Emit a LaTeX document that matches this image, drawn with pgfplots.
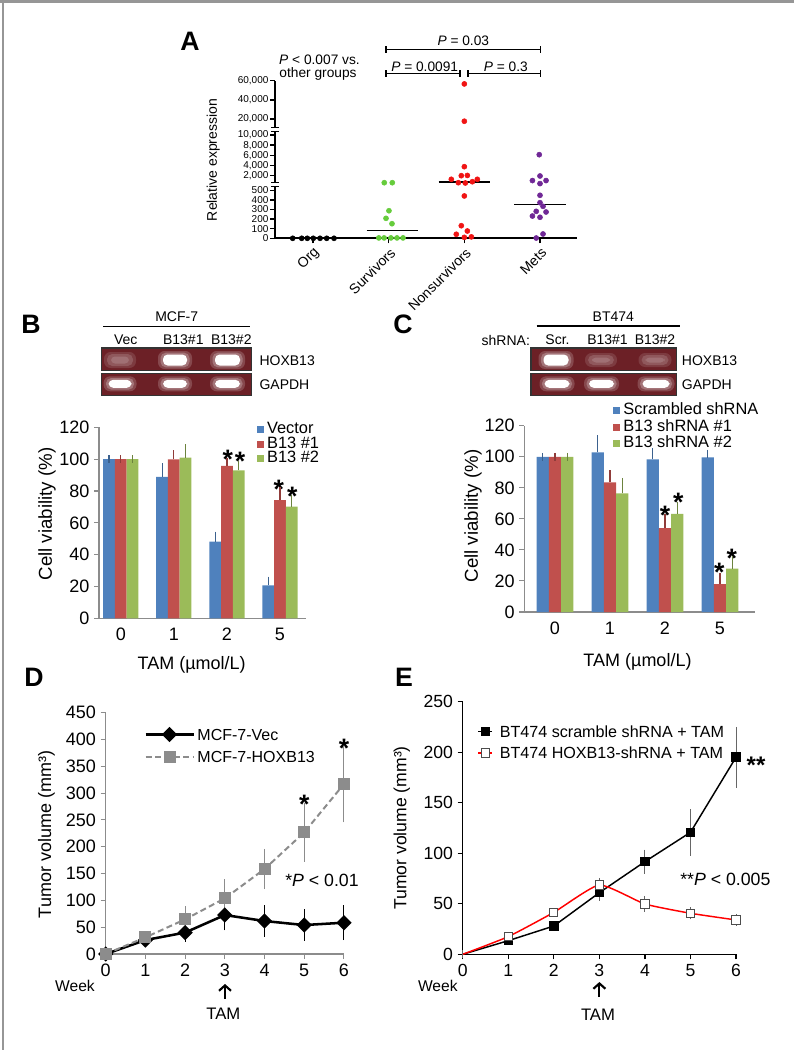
\documentclass[border=0pt]{standalone}
\usepackage{fontspec}
\setmainfont{Liberation Sans}
\usepackage{pgfplots}
\pgfplotsset{compat=1.18}
\usetikzlibrary{arrows.meta}
\newcommand{\fs}[1]{\fontsize{#1}{#1}\selectfont}
\definecolor{xblue}{RGB}{79,129,189}
\definecolor{xred}{RGB}{192,80,77}
\definecolor{xgreen}{RGB}{155,187,89}
\definecolor{dgreen}{RGB}{102,204,60}
\definecolor{dred}{RGB}{240,20,20}
\definecolor{dpurple}{RGB}{112,40,150}
\definecolor{gelbg}{RGB}{108,32,38}
\definecolor{framegray}{RGB}{150,150,150}
\definecolor{hgray}{RGB}{140,140,140}
\pgfplotsset{
  sq legend/.style={legend image code/.code={\fill[##1,draw=none] (0pt,-2.6pt) rectangle (5.2pt,2.6pt);}},
  ln legend D/.style={legend image code/.code={\draw[##1,mark repeat=2,mark phase=2] plot coordinates {(0pt,0pt) (18pt,0pt) (36pt,0pt)};}},
  ln legend E/.style={legend image code/.code={\draw[##1,mark repeat=2,mark phase=2] plot coordinates {(0pt,0pt) (5.25pt,0pt) (10.5pt,0pt)};}},
}
% gel band: x y w h corecolor
\newcommand{\band}[5]{%
  \fill[white, opacity=0.18, rounded corners=5pt] ({#1-#3/2-5},{#2-#4/2-3.5}) rectangle ({#1+#3/2+5},{#2+#4/2+3.5});
  \fill[white, opacity=0.25, rounded corners=4pt] ({#1-#3/2-2.5},{#2-#4/2-1.8}) rectangle ({#1+#3/2+2.5},{#2+#4/2+1.8});
  \fill[#5, rounded corners=3.5pt] ({#1-#3/2},{#2-#4/2}) rectangle ({#1+#3/2},{#2+#4/2});}
\newcommand{\fband}[4]{%
  \fill[white, opacity=0.12, rounded corners=5pt] ({#1-#3/2-4},{#2-#4/2-3}) rectangle ({#1+#3/2+4},{#2+#4/2+3});
  \fill[white, opacity=0.15, rounded corners=4pt] ({#1-#3/2-1},{#2-#4/2-1}) rectangle ({#1+#3/2+1},{#2+#4/2+1});
  \fill[white, opacity=0.15, rounded corners=3pt] ({#1-#3/2+3},{#2-#4/2+1.5}) rectangle ({#1+#3/2-3},{#2+#4/2-1.5});}
\newcommand{\astk}[2]{\node[anchor=base, font=\fs{20}\bfseries] at (#1,{#2+15.6}) {*};}
\begin{document}
\begin{tikzpicture}
\path[use as bounding box] (0,0) rectangle (595.5pt,-787.5pt);
\begin{scope}[x=0.75pt,y=-0.75pt, every node/.style={inner sep=0pt, text depth=0pt}]
  % frame
  \draw[framegray, line width=2pt] (0,1.3) -- (794,1.3);
  \draw[framegray, line width=1.7pt] (2.8,0) -- (2.8,1050);
  % panel letters
  \node[font=\fs{20}\bfseries] at (190,41.7) {A};
  \node[font=\fs{20}\bfseries] at (31,324) {B};
  \node[font=\fs{20}\bfseries] at (403,324) {C};
  \node[font=\fs{20}\bfseries] at (34,677) {D};
  \node[font=\fs{20}\bfseries] at (404,677) {E};
  % ---- Panel A annotations
  \node[font=\fs{10.3}] at (319.5,59.3) {\textit{P} < 0.007 vs.};
  \node[font=\fs{10.3}] at (318,72.3) {other groups};
  \node[font=\fs{10.3}] at (463.3,40.7) {\textit{P} = 0.03};
  \node[font=\fs{10.3}] at (424.7,66.5) {\textit{P} = 0.0091};
  \node[font=\fs{10.3}] at (505.8,66.5) {\textit{P} = 0.3};
  \draw[line width=0.8pt] (386,49.7) -- (540.7,49.7) (386,46.2) -- (386,53.2) (540.7,46.2) -- (540.7,53.2);
  \draw[line width=0.8pt] (386,73.7) -- (460,73.7) (386,70.2) -- (386,77.2) (460,70.2) -- (460,77.2);
  \draw[line width=0.8pt] (468,73.7) -- (540.7,73.7) (468,70.2) -- (468,77.2) (540.7,70.2) -- (540.7,77.2);
  \node[font=\fs{10.5}, rotate=90] at (211.7,160) {Relative expression};
  % broken y axis of A
  \draw[line width=1.5pt] (275,239) -- (275,186.7) (275,182.7) -- (275,131.7) (275,127.7) -- (275,80.7);
  \draw[line width=1pt] (271,186.7) -- (279,186.7) (271,182.7) -- (279,182.7) (271,131.7) -- (279,131.7) (271,127.7) -- (279,127.7);
  % ---- Panel B gel
  \node[font=\fs{10.5}] at (176.7,316.7) {MCF-7};
  \draw[line width=0.8pt] (103,326.7) -- (250,326.7);
  \node[font=\fs{10.5}] at (125.8,339.2) {Vec};
  \node[font=\fs{10.5}] at (183.3,339.2) {B13\#1};
  \node[font=\fs{10.5}] at (231.3,339.2) {B13\#2};
  \fill[gelbg] (101.5,348) rectangle (251.7,370.7);
  \fill[gelbg] (101.5,373.3) rectangle (251.7,395.3);
  \fband{120}{360}{24}{10}
  \band{175}{360}{24}{11}{white}
  \band{227.5}{360}{25}{11}{white}
  \band{120}{383.8}{23}{8}{white}
  \band{175}{383.8}{24}{8}{white}
  \band{227.5}{383.8}{25}{8}{white}
  \draw[black!80, line width=0.8pt] (101.5,348) rectangle (251.7,370.7);
  \draw[black!80, line width=0.8pt] (101.5,373.3) rectangle (251.7,395.3);
  \node[font=\fs{10.5}, anchor=west] at (259.3,360.8) {HOXB13};
  \node[font=\fs{10.5}, anchor=west] at (259.3,385) {GAPDH};
  % ---- Panel C gel
  \node[font=\fs{10.5}] at (613.3,316.7) {BT474};
  \draw[line width=0.8pt] (536.7,326) -- (680,326);
  \node[font=\fs{10.5}] at (505.8,340) {shRNA:};
  \node[font=\fs{10.5}] at (557.5,340) {Scr.};
  \node[font=\fs{10.5}] at (607.5,340) {B13\#1};
  \node[font=\fs{10.5}] at (655,340) {B13\#2};
  \fill[gelbg] (531,348) rectangle (676.7,370.7);
  \fill[gelbg] (531,373.3) rectangle (676.7,395.3);
  \band{556}{360}{25}{11}{white}
  \fband{601}{360}{24}{8}
  \fband{655}{360}{25}{8}
  \band{557}{383.8}{25}{8}{white}
  \band{601.5}{383.8}{25}{8}{white}
  \band{656}{383.8}{27}{8}{white}
  \draw[black!80, line width=0.8pt] (531,348) rectangle (676.7,370.7);
  \draw[black!80, line width=0.8pt] (531,373.3) rectangle (676.7,395.3);
  \node[font=\fs{10.5}, anchor=west] at (681.7,360.8) {HOXB13};
  \node[font=\fs{10.5}, anchor=west] at (681.7,385) {GAPDH};
  % ---- Panel B/C labels
  \node[font=\fs{14}, rotate=90] at (45,514) {Cell viability (\%)};
  \node[font=\fs{14}, rotate=90] at (471,516) {Cell viability (\%)};
  \node[font=\fs{13.5}] at (191.7,663.3) {TAM (µmol/L)};
  \node[font=\fs{13.5}] at (637.5,660) {TAM (µmol/L)};
  \astk{227.7}{453.3}\astk{240}{455}\astk{278.7}{482.7}\astk{292.3}{490}
  \astk{665}{509.3}\astk{678.3}{496}\astk{719.3}{566}\astk{731.7}{551.7}
  % ---- Panel D labels
  \node[font=\fs{13.5}, rotate=90] at (44.7,834.5) {Tumor volume (mm³)};
  \node[font=\fs{11.7}] at (75,985.8) {Week};
  \draw[line width=1.6pt, -{Straight Barb[length=4pt,width=9pt]}] (225,999) -- (225,984);
  \node[font=\fs{12.5}] at (223.3,1014) {TAM};
  \astk{304.3}{798.3}\astk{344}{741.7}
  \node[font=\fs{13.3}, anchor=west] at (285,880) {*\textit{P} < 0.01};
  % ---- Panel E labels
  \node[font=\fs{13.2}, rotate=90] at (400,828) {Tumor volume (mm³)};
  \node[font=\fs{11.7}] at (437.8,985.5) {Week};
  \draw[line width=1.6pt, -{Straight Barb[length=4pt,width=9pt]}] (599.4,997) -- (599.4,982);
  \node[font=\fs{12.5}] at (598,1015) {TAM};
  \node[anchor=base, font=\fs{18}\bfseries] at (756,773) {**};
  \node[font=\fs{13.3}, anchor=west] at (680,879) {**\textit{P} < 0.005};
\end{scope}

% ================= Panel A
\begin{axis}[
  at={({275*0.75pt},{-238.3*0.75pt})}, anchor=south west,
  scale only axis, width=226.5pt, height=118.3pt,
  xmin=-0.502, xmax=3.489, ymin=0, ymax=60,
  y coord trafo/.code={\pgfmathparse{(#1<0.5)?(#1*96):((#1<2)?(48+(#1-0.5)*9.7333):((#1<10)?(62.6+(#1-2)*5.0833):((#1<20)?(103.3+(#1-10)*1.6):(119.3+(#1-20)*0.96))))}},
  axis x line*=bottom, axis y line*=left,
  x axis line style={line width=1.5pt},
  y axis line style={draw=none},
  tick align=outside, major tick length=3.75pt,
  tick style={black, line width=1.1pt},
  xtick={0,1,2,3}, xticklabels={Org,Survivors,Nonsurvivors,Mets},
  xticklabel style={font=\fs{10.5}, rotate=45, anchor=east, inner sep=1pt, xshift=-0.5pt, yshift=-6pt},
  ytick={0,0.1,0.2,0.3,0.4,0.5,2,4,6,8,10,20,40,60},
  yticklabels={0,100,200,300,400,500,{2,000},{4,000},{6,000},{8,000},{10,000},{20,000},{40,000},{60,000}},
  yticklabel style={font=\fs{7.5}, inner sep=1pt},
  clip=false,
]
\addplot[only marks, mark=*, mark size=1.9pt, black] coordinates {(-0.268,0) (-0.149,0) (-0.075,0) (0.004,0) (0.093,0) (0.181,0) (0.278,0)};
\addplot[only marks, mark=*, mark size=1.9pt, dgreen] coordinates {(0.942,1.28) (1.048,1.28) (1.004,0.287) (0.965,0.208) (1.044,0.152) (0.87,0.004) (0.94,0.004) (1.03,0.004) (1.11,0.004) (1.19,0.004)};
\addplot[only marks, mark=*, mark size=1.9pt, dred] coordinates {(2,56.5) (2,18.6) (2,3.77) (1.828,1.63) (1.96,2.0) (2.04,2.05) (2.172,1.63) (1.921,1.28) (2.013,1.25) (2.106,1.38) (2,0.441) (1.96,0.131) (1.894,0.042) (2.04,0.076) (2,0.010) (2.093,0.015)};
\addplot[only marks, mark=*, mark size=1.9pt, dpurple] coordinates {(2.99,6.13) (2.9,1.5) (3,1.97) (3.08,1.5) (3,1.19) (3,0.448) (3,0.371) (3.04,0.333) (2.95,0.281) (3.08,0.274) (2.9,0.232) (3,0.219) (3.04,0.045) (2.95,0.003)};
\addplot[black, line width=1.1pt, no marks] coordinates {(0.71,0.08) (1.39,0.08)};
\addplot[black, line width=1.1pt, no marks] coordinates {(1.66,1.33) (2.34,1.33)};
\addplot[black, line width=1.1pt, no marks] coordinates {(2.66,0.35) (3.34,0.35)};
\end{axis}

% ================= Panel B
\begin{axis}[
  at={({99*0.75pt},{-618.3*0.75pt})}, anchor=south west,
  scale only axis, width=155.25pt, height=143.25pt,
  xmin=-0.41, xmax=3.49, ymin=0, ymax=120,
  ybar=0pt, bar width=8.8pt,
  axis x line*=bottom, axis y line*=left,
  axis line style={black!45, line width=0.8pt},
  ytick={0,20,40,60,80,100,120}, xtick={0,1,2,3}, xticklabels={0,1,2,5},
  tick align=outside, major tick length=3.75pt,
  ytick style={black!45, line width=0.8pt}, xtick style={draw=none},
  ticklabel style={font=\fs{13.5}},
  /pgf/number format/assume math mode=true,
  every axis plot post/.append style={sq legend},
  legend style={at={(0.745,1.041)}, anchor=north west, draw=none, fill=none, font=\fs{12.3},
    nodes={inner sep=0pt, text height=8.5pt, text depth=2.4pt}, row sep=0pt,
    /tikz/every odd column/.append style={column sep=2pt}},
  legend cell align=left,
  clip=false,
]
\addplot[fill=xblue, draw=none, error bars/.cd, y dir=plus, y explicit, error bar style={draw=xblue!75!black, line width=0.9pt}, error mark options={draw=xblue!75!black, mark size=3pt, line width=0.9pt}]
  coordinates {(0,100) +- (0,0) (1,88.8) +- (0,6.1) (2,48.2) +- (0,3.7) (3,20.7) +- (0,3.0)};
\addplot[fill=xred, draw=none, error bars/.cd, y dir=plus, y explicit, error bar style={draw=xred!75!black, line width=0.9pt}, error mark options={draw=xred!75!black, mark size=3pt, line width=0.9pt}]
  coordinates {(0,100) +- (0,0) (1,99.9) +- (0,3.3) (2,95.7) +- (0,2.3) (3,74.3) +- (0,5.5)};
\addplot[fill=xgreen, draw=none, error bars/.cd, y dir=plus, y explicit, error bar style={draw=xgreen!70!black, line width=0.9pt}, error mark options={draw=xgreen!70!black, mark size=3pt, line width=0.9pt}]
  coordinates {(0,100) +- (0,0) (1,101) +- (0,5.8) (2,93) +- (0,3.5) (3,70.2) +- (0,4.6)};
\legend{Vector, B13 \#1, B13 \#2}
\end{axis}

% ================= Panel C
\begin{axis}[
  at={({524.3*0.75pt},{-612*0.75pt})}, anchor=south west,
  scale only axis, width=173pt, height=139.7pt,
  xmin=-0.558, xmax=3.636, ymin=0, ymax=120,
  ybar=0pt, bar width=9.15pt,
  axis x line*=bottom, axis y line*=left,
  axis line style={black!45, line width=0.8pt},
  ytick={0,20,40,60,80,100,120}, xtick={0,1,2,3}, xticklabels={0,1,2,5},
  tick align=outside, major tick length=3.75pt,
  ytick style={black!45, line width=0.8pt}, xtick style={draw=none},
  ticklabel style={font=\fs{13.5}},
  /pgf/number format/assume math mode=true,
  every axis plot post/.append style={sq legend},
  legend style={at={(0.367,1.143)}, anchor=north west, draw=none, fill=none, font=\fs{12.3},
    nodes={inner sep=0pt, text height=9.3pt, text depth=3.2pt}, row sep=0pt,
    /tikz/every odd column/.append style={column sep=2.5pt}},
  legend cell align=left,
  clip=false,
]
\addplot[fill=xblue, draw=none, error bars/.cd, y dir=plus, y explicit, error bar style={draw=xblue!75!black, line width=0.9pt}, error mark options={draw=xblue!75!black, mark size=3pt, line width=0.9pt}]
  coordinates {(0,100) +- (0,0) (1,102.8) +- (0,8.6) (2,98.3) +- (0,4.5) (3,99.6) +- (0,2.4)};
\addplot[fill=xred, draw=none, error bars/.cd, y dir=plus, y explicit, error bar style={draw=xred!75!black, line width=0.9pt}, error mark options={draw=xred!75!black, mark size=3pt, line width=0.9pt}]
  coordinates {(0,100) +- (0,0) (1,83.5) +- (0,5.4) (2,54.1) +- (0,6.7) (3,18) +- (0,4.3)};
\addplot[fill=xgreen, draw=none, error bars/.cd, y dir=plus, y explicit, error bar style={draw=xgreen!70!black, line width=0.9pt}, error mark options={draw=xgreen!70!black, mark size=3pt, line width=0.9pt}]
  coordinates {(0,100) +- (0,0) (1,76.4) +- (0,7.5) (2,63.3) +- (0,5.2) (3,27.9) +- (0,5.6)};
\legend{Scrambled shRNA, B13 shRNA \#1, B13 shRNA \#2}
\end{axis}

% ================= Panel D
\begin{axis}[
  at={({105.7*0.75pt},{-954*0.75pt})}, anchor=south west,
  scale only axis, width=178.7pt, height=181pt,
  xmin=0, xmax=6, ymin=0, ymax=450,
  axis x line*=bottom, axis y line*=left,
  axis line style={black!45, line width=0.8pt},
  xtick={0,1,2,3,4,5,6}, ytick={0,50,100,150,200,250,300,350,400,450},
  tick align=outside, major tick length=3.75pt,
  tick style={black!45, line width=0.8pt},
  ticklabel style={font=\fs{13.5}},
  /pgf/number format/assume math mode=true,
  every axis plot post/.append style={ln legend D},
  legend style={at={(0.144,0.968)}, anchor=north west, draw=none, fill=none, font=\fs{12},
    nodes={inner sep=0pt, text height=12.6pt, text depth=4.1pt}, row sep=0pt,
    /tikz/every odd column/.append style={column sep=2pt}},
  legend cell align=left,
  clip=false,
]
\addplot[black, line width=1.9pt, mark=square*, mark size=3.1pt, mark options={rotate=45, solid},
  error bars/.cd, y dir=both, y explicit, error bar style={draw=black, line width=0.8pt, solid}, error mark options={draw=black, mark size=3pt, line width=0.8pt}]
  coordinates {(0,0) +- (0,0) (1,26) +- (0,6) (2,40) +- (0,10) (3,72.7) +- (0,21) (4,61.5) +- (0,22) (5,54) +- (0,22) (6,58.4) +- (0,25)};
\addplot[hgray, line width=1.5pt, dash pattern=on 4.5pt off 2.6pt, mark=square*, mark size=3.75pt, mark options={solid},
  error bars/.cd, y dir=both, y explicit, error bar style={draw=hgray, line width=0.8pt, solid}, error mark options={draw=hgray, mark size=3pt, line width=0.8pt, solid}]
  coordinates {(0,0) +- (0,0) (1,31) +- (0,4) (2,64.6) +- (0,17) (3,103.8) +- (0,28) (4,158.5) +- (0,30) (5,226.8) +- (0,47) (6,317) +- (0,64)};
\legend{MCF-7-Vec, MCF-7-HOXB13}
\end{axis}

% ================= Panel E
\begin{axis}[
  at={({462.7*0.75pt},{-954.3*0.75pt})}, anchor=south west,
  scale only axis, width=205pt, height=189.5pt,
  xmin=0, xmax=6, ymin=0, ymax=250,
  axis x line*=bottom, axis y line*=left,
  axis line style={black, line width=0.9pt},
  xtick={0,1,2,3,4,5,6}, ytick={0,50,100,150,200,250},
  tick align=outside, major tick length=3.75pt,
  tick style={black, line width=0.9pt},
  ticklabel style={font=\fs{13.2}},
  /pgf/number format/assume math mode=true,
  every axis plot post/.append style={ln legend E},
  legend style={at={(0.039,0.9375)}, anchor=north west, draw=none, fill=none, font=\fs{12.1},
    nodes={inner sep=0pt, text height=12.5pt, text depth=3.8pt}, row sep=0pt,
    /tikz/every odd column/.append style={column sep=5pt}},
  legend cell align=left,
  clip=false,
]
\addplot[black, line width=1.1pt, mark=square*, mark size=3pt, mark phase=2,
  error bars/.cd, y dir=both, y explicit, error bar style={draw=black!60, line width=0.8pt}, error mark options={draw=black!60, mark size=3pt, line width=0.8pt}]
  coordinates {(0,0) +- (0,0) (1,13.5) +- (0,0) (2,28) +- (0,0) (3,61) +- (0,4) (4,91.7) +- (0,8) (5,120.7) +- (0,19) (6,195) +- (0,26)};
\addplot[red, line width=1.1pt, smooth, tension=0.3, mark=square*, mark size=3.1pt, mark phase=2, mark options={draw=black!70, fill=white, line width=0.8pt},
  error bars/.cd, y dir=both, y explicit, error bar style={draw=black!60, line width=0.8pt}, error mark options={draw=black!60, mark size=3pt, line width=0.8pt}]
  coordinates {(0,0) +- (0,0) (1,17.5) +- (0,0) (2,41.5) +- (0,0) (3,68.6) +- (0,3) (4,49.8) +- (0,4) (5,40.6) +- (0,2) (6,34) +- (0,2)};
\legend{BT474 scramble shRNA + TAM, BT474 HOXB13-shRNA + TAM}
\end{axis}
\end{tikzpicture}
\end{document}
